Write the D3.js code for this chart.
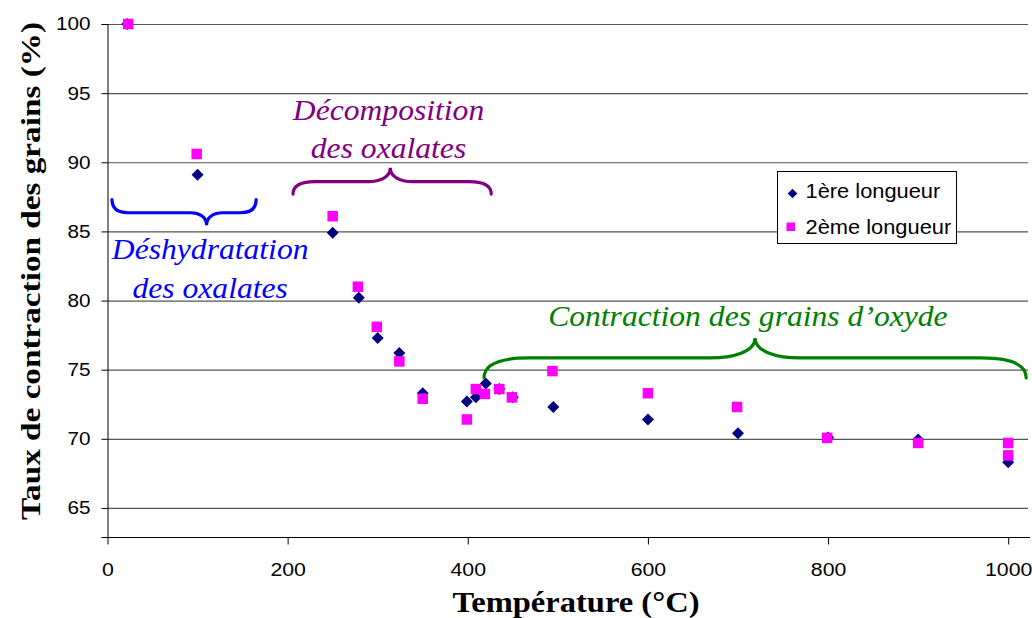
<!DOCTYPE html>
<html>
<head>
<meta charset="utf-8">
<script src="https://cdn.jsdelivr.net/npm/d3@7"></script>
<style>
  html, body { margin: 0; padding: 0; background: #fff; }
  svg { display: block; }
</style>
</head>
<body>
<svg id="chart" width="1032" height="618"></svg>
<script>
// ---- Data ----
const temps1 = [22, 100, 250, 279, 300, 324, 350, 399, 409, 420, 435, 450, 495, 600, 700, 800, 900, 1000];
const vals1  = [100, 89.1, 84.9, 80.2, 77.3, 76.2, 73.3, 72.7, 73.0, 74.0, 73.6, 73.0, 72.3, 71.4, 70.4, 70.1, 69.95, 68.3];
const temps2 = [23, 99, 250, 278, 299, 324, 350, 399, 409, 419, 435, 449, 494, 600, 699, 799, 900, 1000, 1000];
const vals2  = [100, 90.6, 86.1, 81.0, 78.1, 75.6, 72.9, 71.4, 73.6, 73.25, 73.6, 73.0, 74.9, 73.3, 72.3, 70.07, 69.7, 69.7, 68.8];
const seriesNames = ["1ère longueur", "2ème longueur"];
const xTicks = [0, 200, 400, 600, 800, 1000];
const yTicks = [65, 70, 75, 80, 85, 90, 95, 100];
const xTitle = "Température (°C)";
const yTitle = "Taux de contraction des grains (%)";
// annotation labels (lines) and braces in data units
const annoTexts = [
  {lines: ["Décomposition", "des oxalates"], color: "#800080"},
  {lines: ["Déshydratation", "des oxalates"], color: "#0000ff"},
  {lines: ["Contraction des grains d’oxyde"], color: "#008000"}
];
const annoTextPos = [
  {t: 312, v: [93.06, 90.3]},
  {t: 114, v: [83.0, 80.2]},
  {t: 711, v: [78.16]}
];
const braces = [
  {t1: 206, t2: 426, tc: 314, vEnd: 87.7, vMid: 88.6, vCusp: 89.6, color: "#800080"},
  {t1: 5, t2: 165, tc: 110, vEnd: 87.3, vMid: 86.35, vCusp: 85.45, color: "#0000ff"},
  {t1: 418, t2: 1020, tc: 719, vEnd: 74.4, vMid: 75.85, vCusp: 77.3, color: "#008000"}
];

// ---- Layout ----
const svg = d3.select("#chart");
const x = d3.scaleLinear().domain([0, 1022]).range([107.5, 1028]);
const y = d3.scaleLinear().domain([62.9, 100]).range([537, 24]);
function stretch(sel, k) {
  sel.each(function () {
    const w = this.getComputedTextLength();
    d3.select(this).attr("textLength", w * k).attr("lengthAdjust", "spacingAndGlyphs");
  });
}

// gridlines
svg.append("g").selectAll("line").data(yTicks).join("line")
  .attr("x1", x.range()[0]).attr("x2", x.range()[1])
  .attr("y1", d => y(d) + 0.5).attr("y2", d => y(d) + 0.5)
  .attr("stroke", "#555").attr("stroke-width", 1.2);

// axes
const gx = svg.append("g").attr("transform", `translate(0,${y.range()[0] + 0.5})`)
  .call(d3.axisBottom(x).tickValues(xTicks).tickFormat(d3.format("d"))
    .tickSize(7).tickSizeOuter(0).tickPadding(18));
gx.select(".domain").attr("stroke", "#000").attr("d", `M${x.range()[0] - 5},0H${x.range()[1] + 2}`);
gx.selectAll(".tick line").attr("stroke", "#000");
gx.selectAll("text").attr("font-family", "Liberation Sans, Arial, sans-serif")
  .attr("font-size", 19).attr("fill", "#000").call(stretch, 1.12);

const gy = svg.append("g").attr("transform", `translate(${x.range()[0]},0)`)
  .call(d3.axisLeft(y).tickValues(yTicks).tickFormat(d3.format("d"))
    .tickSize(6).tickSizeOuter(6).tickPadding(11));
gy.select(".domain").attr("stroke", "#000");
gy.selectAll(".tick line").attr("stroke", "#000");
gy.selectAll("text").attr("font-family", "Liberation Sans, Arial, sans-serif")
  .attr("font-size", 18.5).attr("fill", "#000").call(stretch, 1.12);

// axis titles
svg.append("text").attr("x", 576).attr("y", 612).attr("text-anchor", "middle")
  .attr("font-family", "Liberation Serif, Times New Roman, serif").attr("font-weight", "bold")
  .attr("font-size", 30).attr("textLength", 247).attr("lengthAdjust", "spacingAndGlyphs")
  .text(xTitle);
svg.append("text").attr("transform", "translate(40,271) rotate(-90)").attr("text-anchor", "middle")
  .attr("font-family", "Liberation Serif, Times New Roman, serif").attr("font-weight", "bold")
  .attr("font-size", 27.5).attr("textLength", 498).attr("lengthAdjust", "spacingAndGlyphs")
  .text(yTitle);

// series 1: diamonds
const dsz = 6;
const diamond = `M0,${-dsz}L${dsz},0L0,${dsz}L${-dsz},0Z`;
svg.append("g").selectAll("path").data(temps1.map((t, i) => [t, vals1[i]])).join("path")
  .attr("d", diamond).attr("transform", d => `translate(${x(d[0])},${y(d[1])})`)
  .attr("fill", "#000080");
// series 2: squares
const ssz = 10.5;
svg.append("g").selectAll("rect").data(temps2.map((t, i) => [t, vals2[i]])).join("rect")
  .attr("x", d => x(d[0]) - ssz / 2).attr("y", d => y(d[1]) - ssz / 2)
  .attr("width", ssz).attr("height", ssz).attr("fill", "#ff00ff");

// braces
function bracePath(b) {
  const x1 = x(b.t1), x2 = x(b.t2), xc = x(b.tc);
  const ye = y(b.vEnd), ym = y(b.vMid), yc = y(b.vCusp);
  const r = Math.min(45, (x2 - x1) * 0.11);
  const k = 0.5;
  return `M${x1},${ye} C${x1},${ym + (ye - ym) * 0.2} ${x1 + r * k},${ym} ${x1 + r},${ym}` +
    ` L${xc - r},${ym} C${xc - r * k},${ym} ${xc},${ym + (yc - ym) * 0.3} ${xc},${yc}` +
    ` C${xc},${ym + (yc - ym) * 0.3} ${xc + r * k},${ym} ${xc + r},${ym}` +
    ` L${x2 - r},${ym} C${x2 - r * k},${ym} ${x2},${ym + (ye - ym) * 0.2} ${x2},${ye}`;
}
svg.append("g").selectAll("path").data(braces).join("path")
  .attr("d", bracePath).attr("fill", "none").attr("stroke", d => d.color)
  .attr("stroke-width", 3.2).attr("stroke-linecap", "round");

// annotation texts
annoTexts.forEach((a, i) => {
  const p = annoTextPos[i];
  a.lines.forEach((ln, j) => {
    svg.append("text").attr("x", x(p.t)).attr("y", y(p.v[j])).attr("text-anchor", "middle")
      .attr("font-family", "Liberation Serif, Times New Roman, serif").attr("font-style", "italic")
      .attr("font-size", 29).attr("fill", a.color).text(ln).call(stretch, 1.09);
  });
});

// legend
const lg = svg.append("g").attr("transform", "translate(777.5,171.5)");
lg.append("rect").attr("width", 179).attr("height", 72).attr("fill", "#fff").attr("stroke", "#000").attr("stroke-width", 1);
const ld = 4.8;
lg.append("path").attr("d", `M0,${-ld}L${ld},0L0,${ld}L${-ld},0Z`).attr("transform", "translate(15,22)").attr("fill", "#000080");
lg.append("rect").attr("x", 9).attr("y", 51).attr("width", 8.5).attr("height", 8.5).attr("fill", "#ff00ff");
seriesNames.forEach((n, i) => {
  lg.append("text").attr("x", 28).attr("y", 26 + i * 36)
    .attr("font-family", "Liberation Sans, Arial, sans-serif").attr("font-size", 19.5)
    .attr("fill", "#000").text(n).call(stretch, 1.12);
});
</script>
</body>
</html>
